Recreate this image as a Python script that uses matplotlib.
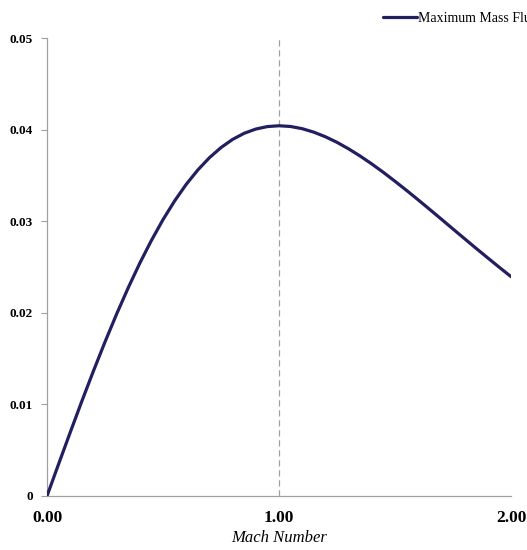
import numpy as np
import matplotlib
matplotlib.use('Agg')
import matplotlib.pyplot as plt

# values (Mach number vs mass flux parameter)
mach = [0.0, 0.05, 0.1, 0.15, 0.2, 0.25, 0.3, 0.35, 0.4, 0.45, 0.5,
        0.55, 0.6, 0.65, 0.7, 0.75, 0.8, 0.85, 0.9, 0.95, 1.0,
        1.05, 1.1, 1.15, 1.2, 1.25, 1.3, 1.35, 1.4, 1.45, 1.5,
        1.55, 1.6, 1.65, 1.7, 1.75, 1.8, 1.85, 1.9, 1.95, 2.0]
flux = [0.0, 0.00349, 0.00694, 0.01034, 0.01364, 0.01682, 0.01986,
        0.02273, 0.02542, 0.02790, 0.03017, 0.03221, 0.03402, 0.03559,
        0.03693, 0.03804, 0.03893, 0.03960, 0.04006, 0.04033, 0.04042,
        0.04034, 0.04010, 0.03972, 0.03922, 0.03861, 0.03790, 0.03711,
        0.03625, 0.03533, 0.03436, 0.03336, 0.03233, 0.03128, 0.03022,
        0.02915, 0.02809, 0.02703, 0.02599, 0.02496, 0.02395]
xt = [0.0, 1.0, 2.0]
xtl = ['0.00', '1.00', '2.00']
yt = [0, 0.01, 0.02, 0.03, 0.04, 0.05]
ytl = ['0', '0.01', '0.02', '0.03', '0.04', '0.05']

plt.rcParams['font.family'] = ['Liberation Serif', 'DejaVu Serif']

fig = plt.figure(figsize=(5.27, 5.5), dpi=100)
ax = fig.add_axes([0.0892, 0.0982, 0.8804, 0.8327])

ax.axvline(1.0, color='#a0a0a0', lw=0.9, ls=(0, (5, 3)), zorder=1)
ax.plot(mach, flux, color='#221f60', lw=2.3, label='Maximum Mass Flux', zorder=3,
        solid_joinstyle='round', solid_capstyle='round')

ax.set_xlim(0, 2)
ax.set_ylim(0, 0.05)
ax.set_xticks(xt)
ax.set_xticklabels(xtl, fontsize=12.5, fontweight='bold')
ax.set_yticks(yt)
ax.set_yticklabels(ytl, fontsize=9.5, fontweight='bold')
ax.tick_params(axis='y', direction='out', length=4, color='#a0a0a0', pad=6)
ax.tick_params(axis='x', direction='in', length=0, pad=10)
for s in ['top', 'right']:
  ax.spines[s].set_visible(False)
for s in ['left', 'bottom']:
  ax.spines[s].set_color('#a0a0a0')
  ax.spines[s].set_linewidth(0.9)
ax.set_xlabel('Mach Number', fontsize=12, style='italic', labelpad=3)

fig.legend(loc='center left', bbox_to_anchor=(0.716, 0.967), frameon=False,
           fontsize=10, handlelength=2.45, handletextpad=0.1, borderaxespad=0)

fig.savefig('out.png', dpi=100)
